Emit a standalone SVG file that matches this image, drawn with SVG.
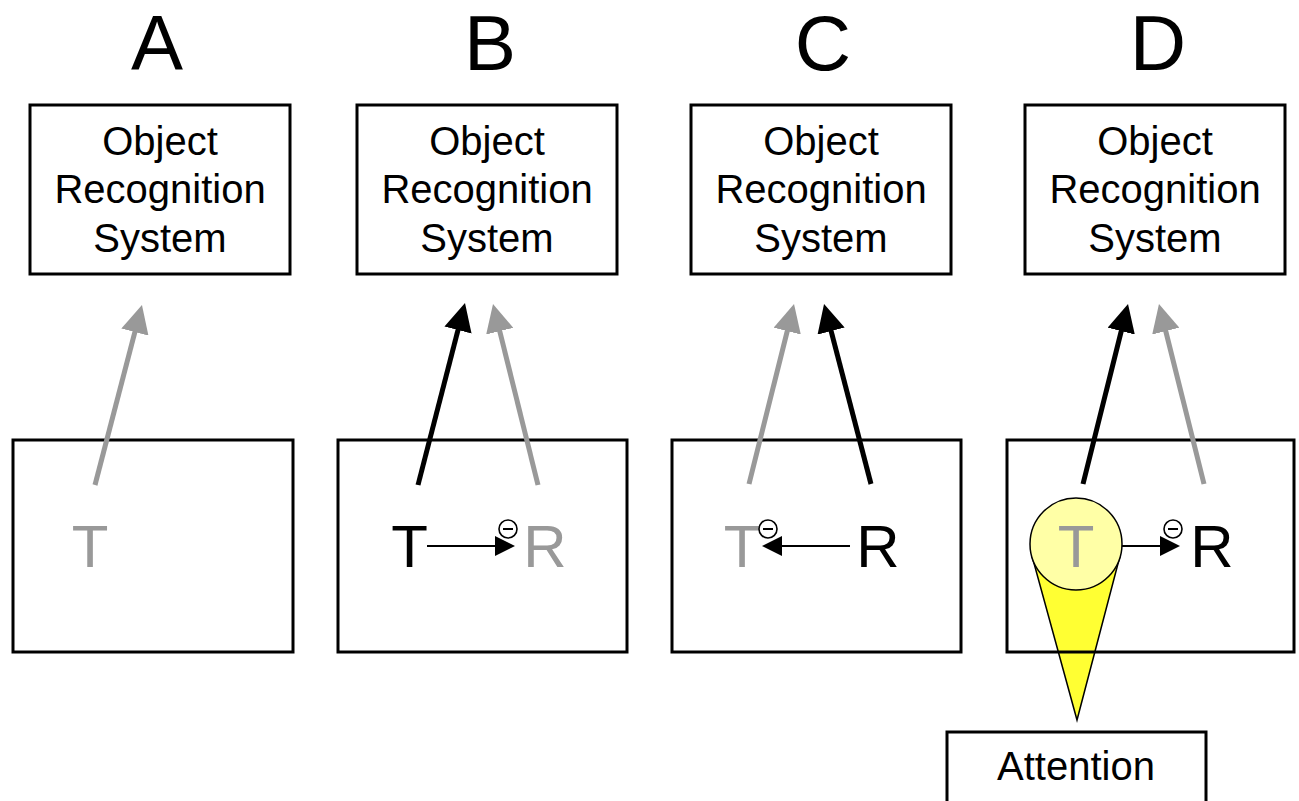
<svg xmlns="http://www.w3.org/2000/svg" width="1299" height="801" viewBox="0 0 1299 801">
<style>
  .box { fill: none; stroke: #000; stroke-width: 3; }
  .title { font-family: "Liberation Sans", Arial, sans-serif; font-size: 78px; text-anchor: middle; fill: #000; }
  .lbl { font-family: "Liberation Sans", Arial, sans-serif; font-size: 40px; text-anchor: middle; fill: #000; }
  .big { font-family: "Liberation Sans", Arial, sans-serif; font-size: 60px; text-anchor: middle; }
  .blk { fill: #000; }
  .gry { fill: #999; }
  .up-k { stroke: #000; stroke-width: 5; fill: none; marker-end: url(#headK); }
  .up-g { stroke: #999; stroke-width: 5; fill: none; marker-end: url(#headG); }
  .inh { stroke: #000; stroke-width: 2; fill: none; marker-end: url(#headS); }
  .minus-c { fill: #fff; stroke: #000; stroke-width: 1.6; }
  .minus-l { stroke: #000; stroke-width: 2; }
</style>
<defs>
  <marker id="headK" markerUnits="userSpaceOnUse" viewBox="0 0 28 28" markerWidth="28" markerHeight="28" refX="4" refY="14" orient="auto">
    <path d="M0,0 L28,14 L0,28 z" fill="#000"/>
  </marker>
  <marker id="headG" markerUnits="userSpaceOnUse" viewBox="0 0 28 28" markerWidth="28" markerHeight="28" refX="4" refY="14" orient="auto">
    <path d="M0,0 L28,14 L0,28 z" fill="#999"/>
  </marker>
  <marker id="headS" markerUnits="userSpaceOnUse" viewBox="0 0 20 20" markerWidth="20" markerHeight="20" refX="1" refY="10" orient="auto">
    <path d="M0,0 L20,10 L0,20 z" fill="#000"/>
  </marker>
</defs>
<rect width="1299" height="801" fill="#fff"/>

<g id="titles">
  <text class="title" x="157" y="70">A</text>
  <text class="title" x="490" y="70">B</text>
  <text class="title" x="823" y="70">C</text>
  <text class="title" x="1158" y="70">D</text>
</g>

<g id="ors-A">
  <rect class="box" x="30" y="105" width="260" height="169"/>
  <text class="lbl" x="160" y="155">Object</text>
  <text class="lbl" x="160" y="203">Recognition</text>
  <text class="lbl" x="160" y="252">System</text>
</g>
<g id="ors-B">
  <rect class="box" x="357" y="105" width="260" height="169"/>
  <text class="lbl" x="487" y="155">Object</text>
  <text class="lbl" x="487" y="203">Recognition</text>
  <text class="lbl" x="487" y="252">System</text>
</g>
<g id="ors-C">
  <rect class="box" x="691" y="105" width="260" height="169"/>
  <text class="lbl" x="821" y="155">Object</text>
  <text class="lbl" x="821" y="203">Recognition</text>
  <text class="lbl" x="821" y="252">System</text>
</g>
<g id="ors-D">
  <rect class="box" x="1025" y="105" width="260" height="169"/>
  <text class="lbl" x="1155" y="155">Object</text>
  <text class="lbl" x="1155" y="203">Recognition</text>
  <text class="lbl" x="1155" y="252">System</text>
</g>

<g id="scene-A">
  <rect class="box" x="13" y="440" width="280" height="212"/>
  <text class="big gry" x="90" y="567">T</text>
</g>
<g id="scene-B">
  <rect class="box" x="338" y="440" width="289" height="212"/>
  <text class="big blk" x="409.5" y="567">T</text>
  <text class="big gry" x="545" y="567">R</text>
</g>
<g id="scene-C">
  <rect class="box" x="672" y="440" width="289" height="212"/>
  <text class="big gry" x="742" y="567">T</text>
  <text class="big blk" x="878" y="567">R</text>
</g>
<g id="scene-D">
  <polygon points="1032,556 1120,556 1077,720" fill="#ffff33" stroke="#000" stroke-width="1.5"/>
  <rect class="box" x="1007" y="440" width="287" height="212"/>
  <circle cx="1076" cy="544" r="46" fill="#ffffa6" stroke="#000" stroke-width="1.5"/>
  <text class="big gry" x="1076" y="567">T</text>
  <text class="big blk" x="1212" y="567">R</text>
</g>
<g id="attention">
  <rect class="box" x="947" y="732" width="259" height="75"/>
  <text class="lbl" x="1076" y="780">Attention</text>
</g>

<g id="connectors">
  <line class="up-g" x1="95" y1="485" x2="135.9" y2="328.2"/>
  <line class="up-k" x1="418" y1="485" x2="459" y2="326.2"/>
  <line class="up-g" x1="538" y1="485" x2="498.8" y2="327.3"/>
  <line class="up-g" x1="749" y1="484" x2="788.2" y2="327.3"/>
  <line class="up-k" x1="871" y1="484" x2="830.1" y2="327.2"/>
  <line class="up-k" x1="1083" y1="484" x2="1122.2" y2="327.3"/>
  <line class="up-g" x1="1204" y1="484" x2="1164.8" y2="327.3"/>

  <line class="inh" x1="427" y1="546" x2="496" y2="546"/>
  <line class="inh" x1="850" y1="546" x2="781" y2="546"/>
  <line class="inh" x1="1122" y1="546" x2="1161" y2="546"/>

  <g id="minus-B"><circle class="minus-c" cx="508" cy="529" r="9"/><line class="minus-l" x1="503" y1="529" x2="513" y2="529"/></g>
  <g id="minus-C"><circle class="minus-c" cx="768" cy="529" r="9"/><line class="minus-l" x1="763" y1="529" x2="773" y2="529"/></g>
  <g id="minus-D"><circle class="minus-c" cx="1173" cy="529" r="9"/><line class="minus-l" x1="1168" y1="529" x2="1178" y2="529"/></g>
</g>
</svg>
